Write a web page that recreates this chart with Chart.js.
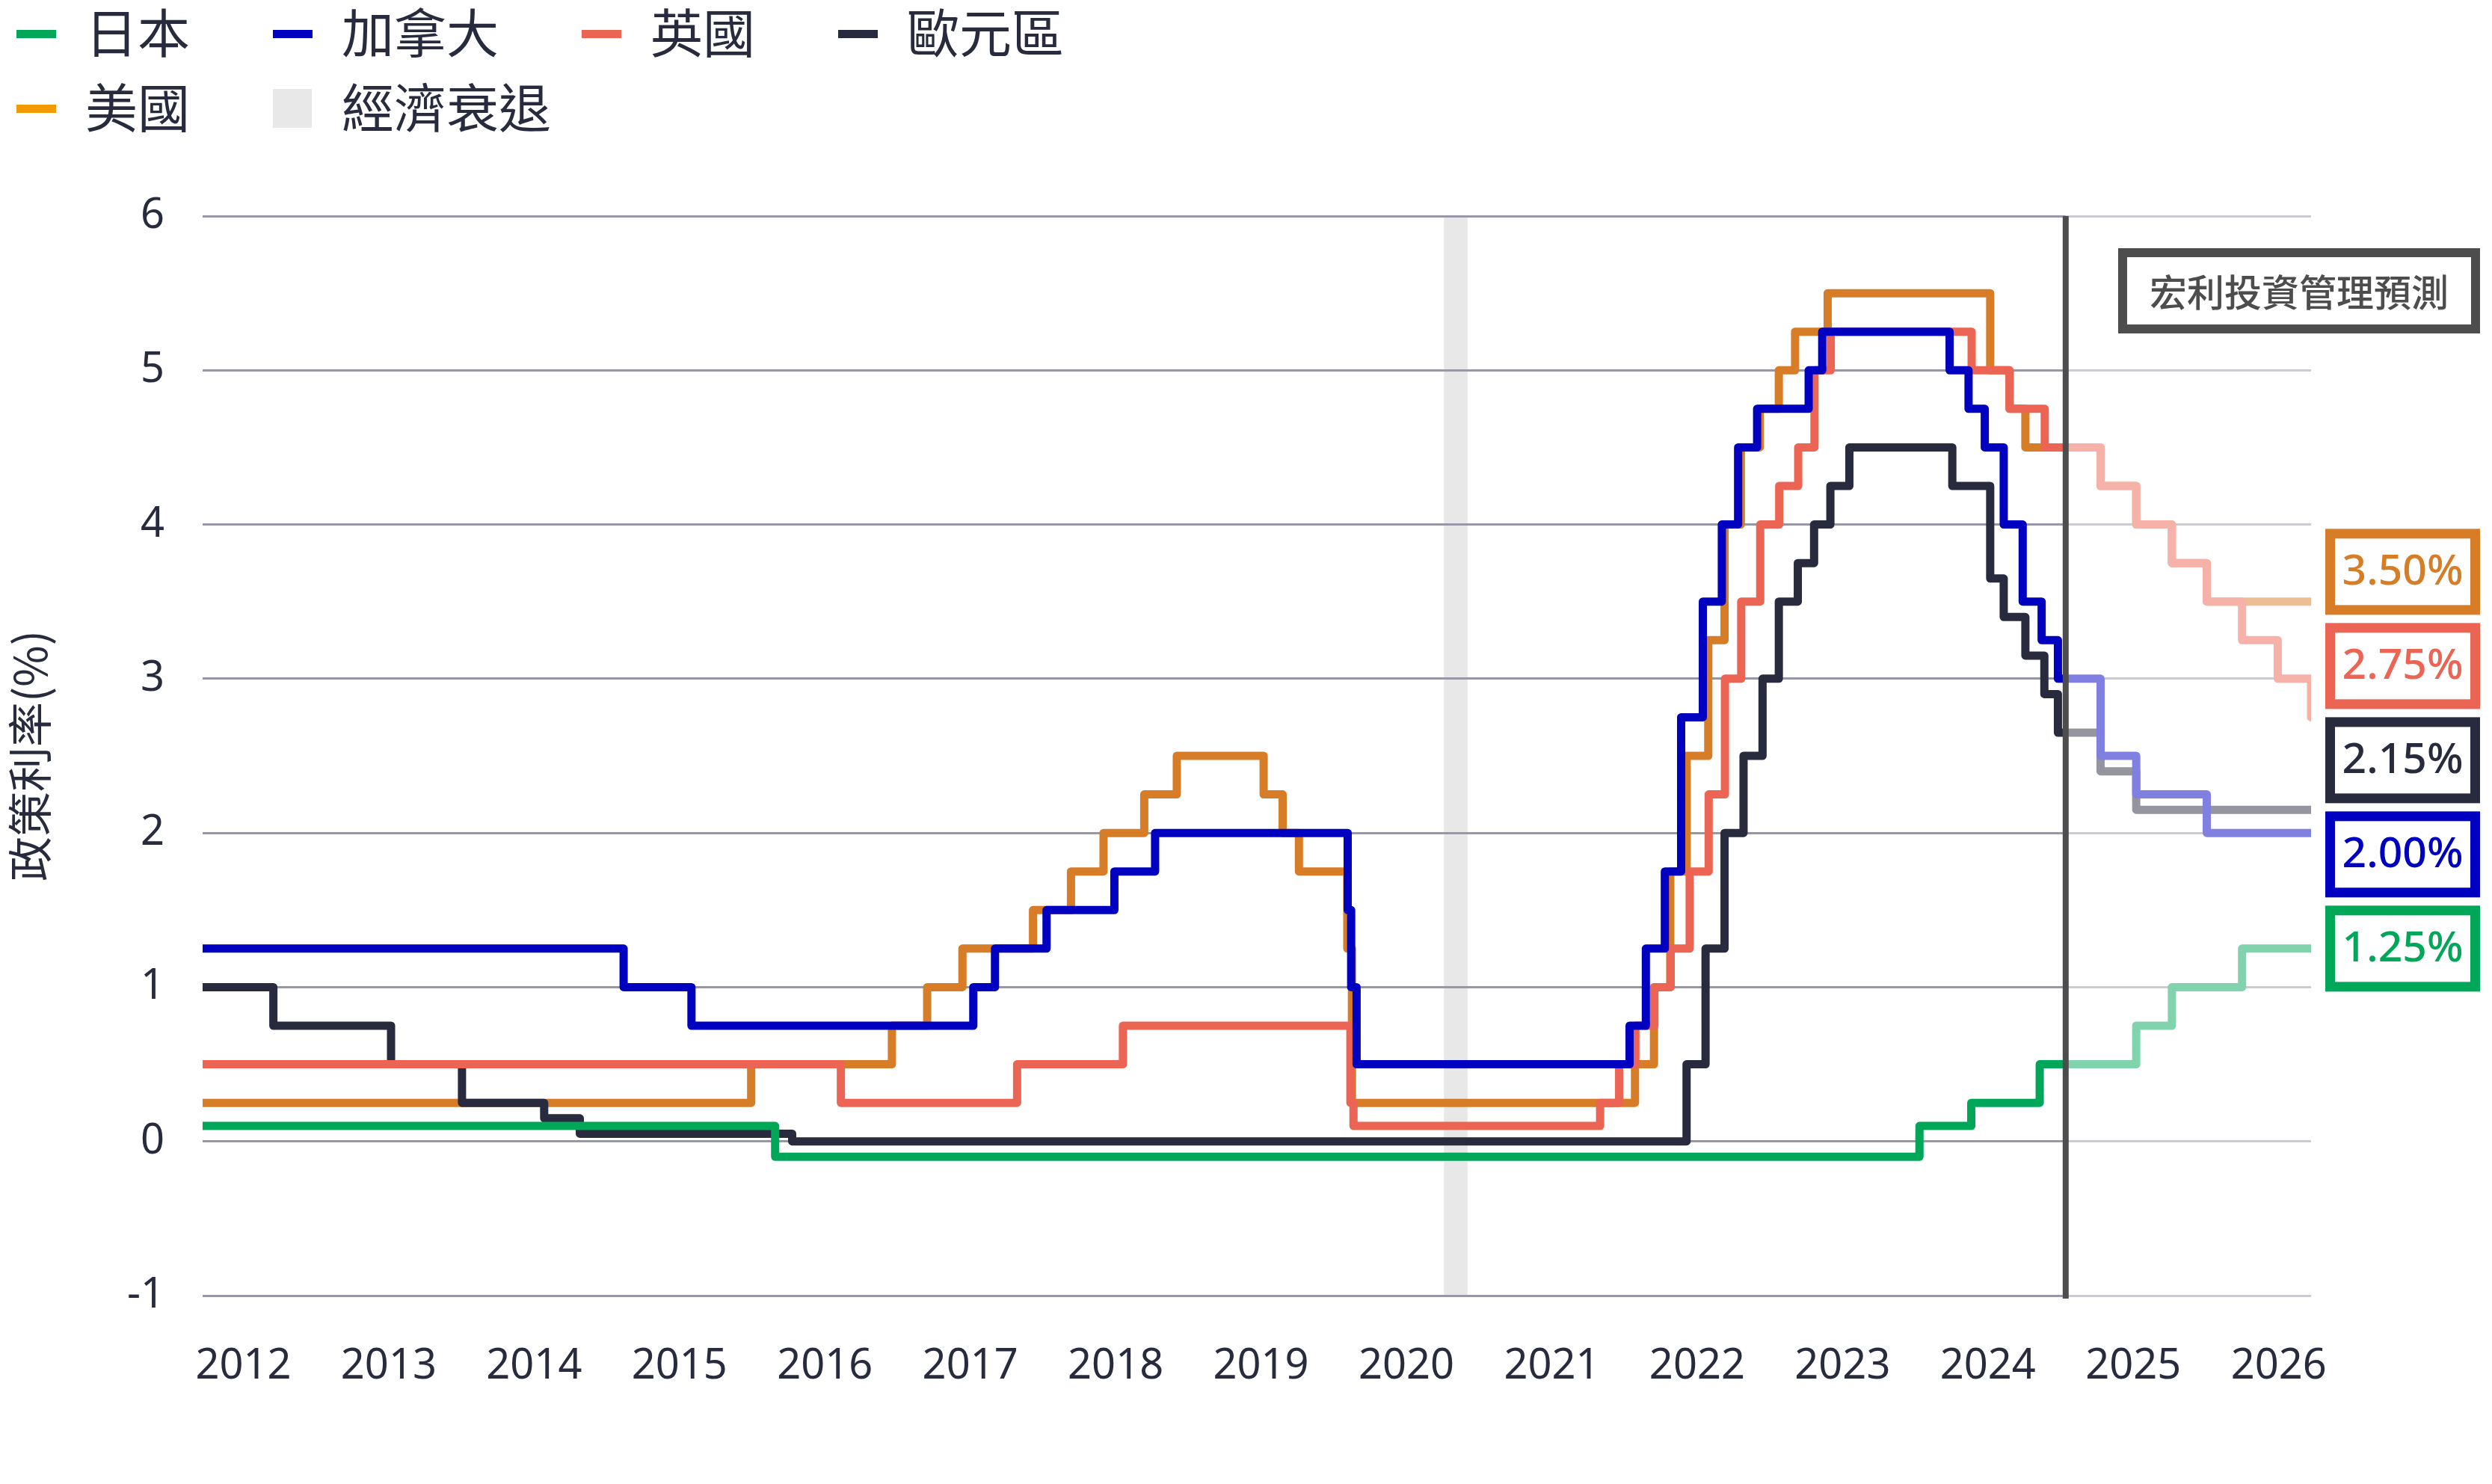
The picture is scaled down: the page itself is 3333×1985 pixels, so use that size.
<!DOCTYPE html>
<html lang="zh-Hant">
<head>
<meta charset="utf-8">
<title>政策利率</title>
<script src="https://cdn.jsdelivr.net/npm/chart.js@4.4.1/dist/chart.umd.min.js"></script>
<style>
  html, body { margin: 0; padding: 0; background: #fff; }
  .card { position: relative; width: 3333px; height: 1985px; }
  #rates-legend { position: absolute; left: 22px; top: -5px; width: 1550px; }
  #rates-legend ul { display: flex; flex-wrap: wrap; list-style: none; margin: 0; padding: 0; }
  #rates-legend li {
    display: flex; align-items: center; height: 100px; margin-right: 111px;
    font: 70px "Noto Sans CJK TC", sans-serif; color: #282B3E;
  }
  #rates-legend .swatch { width: 53px; margin-right: 39px; display: flex; align-items: center; }
  #rates-legend .label { position: relative; top: -4px; line-height: 1; }
</style>
</head>
<body>
<div class="card">
  <canvas id="rates-chart"></canvas>
  <div id="rates-legend"><ul></ul></div>
</div>
<script>
// Policy rates, step changes (date the new rate applies, rate in %)
const seriesNames = ['日本', '加拿大', '英國', '歐元區', '美國'];

const jpDates = ['2012-01-30', '2016-02-16', '2024-03-19', '2024-07-31', '2025-01-24',
  '2025-09-30', '2025-12-31', '2026-06-30', '2026-12-25'];
const jpRates = [0.1, -0.1, 0.1, 0.25, 0.5, 0.75, 1.0, 1.25, 1.25];

const caDates = ['2012-01-30', '2015-01-21', '2015-07-15', '2017-07-12', '2017-09-06',
  '2018-01-17', '2018-07-11', '2018-10-24', '2020-03-04', '2020-03-13', '2020-03-27',
  '2022-03-02', '2022-04-13', '2022-06-01', '2022-07-13', '2022-09-07', '2022-10-26',
  '2022-12-07', '2023-01-25', '2023-06-07', '2023-07-12', '2024-06-05', '2024-07-24',
  '2024-09-04', '2024-10-23', '2024-12-11', '2025-01-29', '2025-03-12',
  '2025-06-30', '2025-09-30', '2026-03-31', '2026-12-25'];
const caRates = [1.25, 1.0, 0.75, 1.0, 1.25, 1.5, 1.75, 2.0, 1.5, 1.0, 0.5,
  0.75, 1.25, 1.75, 2.75, 3.5, 4.0, 4.5, 4.75, 5.0, 5.25, 5.0, 4.75,
  4.5, 4.0, 3.5, 3.25, 3.0, 2.5, 2.25, 2.0, 2.0];

const ukDates = ['2012-01-30', '2016-08-04', '2017-11-02', '2018-08-02', '2020-03-11',
  '2020-03-19', '2021-12-16', '2022-02-03', '2022-03-17', '2022-05-05', '2022-06-16',
  '2022-08-04', '2022-09-22', '2022-11-03', '2022-12-15', '2023-02-02', '2023-03-23',
  '2023-05-11', '2023-06-22', '2023-08-03', '2024-08-01', '2024-11-07', '2025-02-06',
  '2025-06-30', '2025-09-30', '2025-12-31', '2026-03-31', '2026-06-30', '2026-09-30',
  '2026-12-25'];
const ukRates = [0.5, 0.25, 0.5, 0.75, 0.25, 0.1, 0.25, 0.5, 0.75, 1.0, 1.25,
  1.75, 2.25, 3.0, 3.5, 4.0, 4.25, 4.5, 5.0, 5.25, 5.0, 4.75, 4.5,
  4.25, 4.0, 3.75, 3.5, 3.25, 3.0, 2.75];

const euDates = ['2012-01-30', '2012-07-31', '2013-05-31', '2013-11-30', '2014-06-30',
  '2014-09-30', '2016-03-31', '2022-07-27', '2022-09-14', '2022-11-02', '2022-12-21',
  '2023-02-08', '2023-03-22', '2023-05-10', '2023-06-21', '2023-08-02', '2023-09-20',
  '2024-06-12', '2024-09-18', '2024-10-23', '2024-12-18', '2025-02-05', '2025-03-12',
  '2025-06-30', '2025-09-30', '2026-12-25'];
const euRates = [1.0, 0.75, 0.5, 0.25, 0.15, 0.05, 0.0, 0.5, 1.25, 2.0, 2.5,
  3.0, 3.5, 3.75, 4.0, 4.25, 4.5, 4.25, 3.65, 3.4, 3.15, 2.9, 2.65,
  2.4, 2.15, 2.15];

const usDates = ['2012-01-30', '2015-12-16', '2016-12-14', '2017-03-15', '2017-06-14',
  '2017-12-13', '2018-03-21', '2018-06-13', '2018-09-26', '2018-12-19', '2019-07-31',
  '2019-09-18', '2019-10-30', '2020-03-03', '2020-03-15', '2022-03-16', '2022-05-04',
  '2022-06-15', '2022-07-27', '2022-09-21', '2022-11-02', '2022-12-14', '2023-02-01',
  '2023-03-22', '2023-05-03', '2023-07-26', '2024-09-18', '2024-11-07', '2024-12-18',
  '2025-06-30', '2025-09-30', '2025-12-31', '2026-03-31', '2026-12-25'];
const usRates = [0.25, 0.5, 0.75, 1.0, 1.25, 1.5, 1.75, 2.0, 2.25, 2.5, 2.25,
  2.0, 1.75, 1.25, 0.25, 0.5, 1.0, 1.75, 2.5, 3.25, 4.0, 4.5, 4.75,
  5.0, 5.25, 5.5, 5.0, 4.75, 4.5, 4.25, 4.0, 3.75, 3.5, 3.5];

const recessionStart = '2020-11-08';
const recessionEnd = '2021-01-08';
const forecastStart = '2025-04-01';
const xStart = '2012-01-30';
const xEnd = '2026-12-25';

const yearLabels = ['2012', '2013', '2014', '2015', '2016', '2017', '2018', '2019',
  '2020', '2021', '2022', '2023', '2024', '2025', '2026'];

const navy = '#282B3E';
const lineColors = ['#00A758', '#0000C1', '#EC6453', '#282B3E', '#D77D28'];
const legendColors = ['#00A758', '#0000C1', '#EC6453', '#282B3E', '#F39A00'];

// decimal year from 'YYYY-MM-DD'
const toYear = (d) => {
  const [y, m, day] = d.split('-').map(Number);
  const start = Date.UTC(y, 0, 1);
  return y + (Date.UTC(y, m - 1, day) - start) / (Date.UTC(y + 1, 0, 1) - start);
};
const toPoints = (dates, rates) => dates.map((d, i) => ({ x: toYear(d), y: rates[i] }));

// year labels sit evenly spaced, slightly offset from the year starts
const labelFirst = 2012.367;
const labelStep = 1.0275;

// grey band for the recession, drawn under the grid
const recessionBand = {
  id: 'recessionBand',
  beforeDraw(c) {
    const { ctx, chartArea: a, scales: { x } } = c;
    const x0 = x.getPixelForValue(toYear(recessionStart));
    const x1 = x.getPixelForValue(toYear(recessionEnd));
    ctx.save();
    ctx.fillStyle = '#E8E8E8';
    ctx.fillRect(x0, a.top, x1 - x0, a.bottom - a.top);
    ctx.restore();
  },
};

// wash out the forecast part, then the divider and its caption box
const forecastShade = {
  id: 'forecastShade',
  afterDatasetsDraw(c) {
    const { ctx, chartArea: a, scales: { x } } = c;
    const xs = x.getPixelForValue(toYear(forecastStart));
    ctx.save();
    ctx.fillStyle = 'rgba(255,255,255,0.5)';
    ctx.fillRect(xs, a.top - 4, a.right + 12 - xs, a.bottom - a.top + 8);
    ctx.strokeStyle = '#4D4D4D';
    ctx.lineWidth = 8;
    ctx.beginPath();
    ctx.moveTo(xs, a.top);
    ctx.lineTo(xs, a.bottom + 4);
    ctx.stroke();
    // caption box
    const bw = 12;
    const right = a.right + 226;
    const left = right - 484;
    const top = a.top + 43;
    const h = 114;
    ctx.lineWidth = bw;
    ctx.strokeRect(left + bw / 2, top + bw / 2, right - left - bw, h - bw);
    ctx.fillStyle = '#4D4D4D';
    ctx.font = '500 50px "Noto Sans CJK TC"';
    ctx.textAlign = 'center';
    ctx.textBaseline = 'middle';
    ctx.fillText('宏利投資管理預測', (left + right) / 2, top + h / 2 + 2);
    ctx.restore();
  },
};

// boxed end values, stacked upward from the lowest one
const endLabels = {
  id: 'endLabels',
  afterDraw(c) {
    const { ctx, chartArea: a, scales: { y } } = c;
    const items = c.data.datasets.map((ds) => ({
      v: ds.data[ds.data.length - 1].y,
      color: ds.borderColor,
    })).sort((p, q) => p.v - q.v);
    const w = 207;
    const h = 115;
    const gap = 11;
    const bw = 13;
    const left = a.right + 19;
    const baseY = y.getPixelForValue(items[0].v);
    ctx.save();
    items.forEach((it, i) => {
      const cy = baseY - i * (h + gap);
      ctx.fillStyle = '#fff';
      ctx.fillRect(left, cy - h / 2, w, h);
      ctx.lineWidth = bw;
      ctx.strokeStyle = it.color;
      ctx.strokeRect(left + bw / 2, cy - h / 2 + bw / 2, w - bw, h - bw);
      ctx.fillStyle = it.color;
      ctx.font = '500 57px "Noto Sans"';
      ctx.textAlign = 'center';
      ctx.textBaseline = 'middle';
      ctx.fillText(it.v.toFixed(2) + '%', left + w / 2, cy + 1);
    });
    ctx.restore();
  },
};

// legend in HTML so the columns line up like the original
const htmlLegend = {
  id: 'htmlLegend',
  afterUpdate(c, args, options) {
    const ul = document.getElementById(options.containerID).querySelector('ul');
    if (!ul) return;
    while (ul.firstChild) ul.firstChild.remove();
    const entries = c.data.datasets.map((ds, i) => ({ text: ds.label, color: legendColors[i], square: false }));
    entries.push({ text: '經濟衰退', color: '#E8E8E8', square: true });
    entries.forEach((item) => {
      const li = document.createElement('li');
      const sw = document.createElement('span');
      sw.className = 'swatch';
      const mark = document.createElement('span');
      mark.style.display = 'block';
      mark.style.width = item.square ? '52px' : '53px';
      mark.style.height = item.square ? '52px' : '11px';
      mark.style.backgroundColor = item.color;
      sw.appendChild(mark);
      const label = document.createElement('span');
      label.className = 'label';
      label.appendChild(document.createTextNode(item.text));
      li.appendChild(sw);
      li.appendChild(label);
      ul.appendChild(li);
    });
  },
};

const allDates = [jpDates, caDates, ukDates, euDates, usDates];
const allRates = [jpRates, caRates, ukRates, euRates, usRates];

const drawChart = () => {
  const ctx = document.getElementById('rates-chart');
  Chart.defaults.font.family = '"Noto Sans", "Noto Sans CJK TC", sans-serif';
  Chart.defaults.color = navy;

  new Chart(ctx, {
    type: 'line',
    data: {
      datasets: seriesNames.map((name, i) => ({
        label: name,
        data: toPoints(allDates[i], allRates[i]),
        borderColor: lineColors[i],
        backgroundColor: lineColors[i],
        borderWidth: 11,
        borderJoinStyle: 'round',
        borderCapStyle: 'round',
        stepped: true,
        pointRadius: 0,
        fill: false,
      })),
    },
    options: {
      responsive: true,
      maintainAspectRatio: false,
      animation: false,
      layout: {
        padding: { top: 289, right: 242, bottom: 0, left: 0 },
      },
      plugins: {
        legend: { display: false },
        tooltip: { enabled: false },
        htmlLegend: { containerID: 'rates-legend' },
      },
      scales: {
        x: {
          type: 'linear',
          min: toYear(xStart),
          max: toYear(xEnd),
          grid: { display: false },
          border: { display: false },
          afterBuildTicks: (scale) => {
            scale.ticks = yearLabels.map((_, i) => ({ value: labelFirst + i * labelStep }));
          },
          afterFit: (scale) => { scale.height = 252; },
          ticks: {
            autoSkip: false,
            maxRotation: 0,
            padding: 53,
            color: navy,
            font: { size: 56 },
            callback: (value, index) => yearLabels[index],
          },
        },
        y: {
          min: -1,
          max: 6,
          border: { display: false },
          grid: { color: '#9797A8', lineWidth: 3, drawTicks: false },
          afterFit: (scale) => { scale.width = 271; },
          ticks: {
            stepSize: 1,
            padding: 51,
            color: navy,
            font: { size: 56 },
          },
          title: {
            display: true,
            text: '政策利率(%)',
            color: navy,
            font: { family: '"Noto Sans CJK TC"', size: 60 },
            padding: { top: 4, bottom: 0 },
          },
        },
      },
    },
    plugins: [recessionBand, forecastShade, endLabels, htmlLegend],
  });
};

Promise.all([
  document.fonts.load('56px "Noto Sans"'),
  document.fonts.load('60px "Noto Sans CJK TC"'),
]).then(drawChart, drawChart);
</script>
</body>
</html>
